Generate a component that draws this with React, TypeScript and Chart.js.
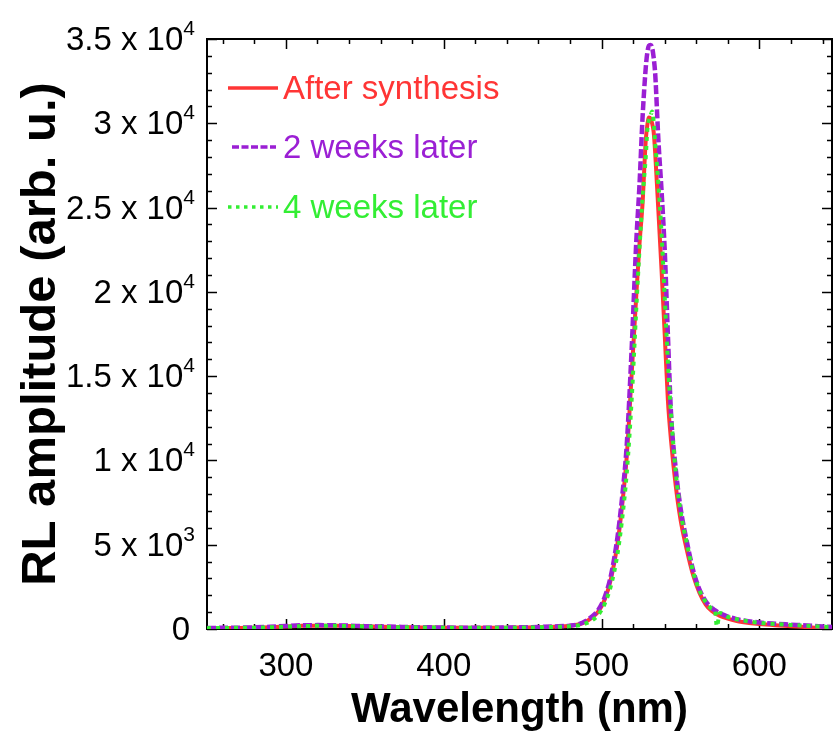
import React, { useEffect, useRef } from 'react';
import { Chart, registerables } from 'chart.js';

Chart.register(...registerables);

// ---- data ----
const wavelengths = [250, 260, 270, 280, 290, 300, 310, 320, 330, 340, 350, 360, 370, 380, 390, 400, 410, 420, 430, 440, 450, 460, 470, 480, 486, 490, 494, 498, 502, 506, 510, 513, 516, 519, 522, 524, 526, 528, 529, 530, 531, 532, 533, 534, 536, 538, 540, 542, 544, 547, 550, 554, 558, 562, 566, 570, 572, 573, 575, 580, 585, 590, 600, 610, 620, 630, 640, 646];

const afterSynthesis = [40, 50, 60, 80, 110, 150, 190, 200, 200, 180, 160, 140, 120, 100, 90, 80, 70, 70, 70, 80, 90, 110, 140, 190, 280, 430, 680, 1050, 1750, 3000, 5000, 7300, 10300, 15000, 19800, 22800, 25300, 29000, 29900, 30350, 30300, 30000, 29500, 28200, 24800, 21300, 17500, 13600, 11200, 8500, 6500, 4700, 3200, 2150, 1450, 1050, 930, 880, 780, 610, 480, 400, 290, 220, 170, 110, 50, 30];

const twoWeeksLater = [60, 70, 80, 100, 130, 180, 220, 230, 220, 200, 170, 150, 130, 110, 100, 90, 80, 80, 80, 90, 100, 120, 150, 200, 300, 480, 750, 1150, 1900, 3200, 5400, 7800, 11000, 16500, 23000, 26300, 30400, 33300, 34200, 34600, 34650, 34500, 33900, 32900, 29000, 26000, 22500, 17500, 12800, 9500, 7200, 5200, 3500, 2350, 1650, 1230, 1100, 1040, 930, 740, 600, 510, 380, 310, 260, 210, 150, 120];

const fourWeeksLater = [50, 60, 70, 80, 100, 140, 170, 190, 190, 170, 150, 130, 110, 100, 90, 80, 70, 70, 70, 70, 80, 100, 120, 160, 220, 330, 520, 850, 1500, 2600, 4400, 6500, 9300, 13500, 19000, 22500, 25600, 28000, 29600, 30200, 30450, 30700, 30100, 28800, 26400, 23500, 19700, 15900, 12800, 9300, 7000, 5100, 3400, 2300, 1600, 1200, 1050, 150, 950, 720, 590, 500, 370, 300, 240, 190, 140, 110];

const seriesLabels = ['After synthesis', '2 weeks later', '4 weeks later'];
const seriesColors = ['#ff3535', '#9b1fd4', '#33ee33'];

const xMin = 250;
const xMax = 646;
const xMajorTicks = [300, 400, 500, 600];
const xMinorStep = 20;

const yMin = 0;
const yMax = 35000;
const yTickValues = [0, 5000, 10000, 15000, 20000, 25000, 30000, 35000];
const yTickBase = ['0', '5 x 10', '1 x 10', '1.5 x 10', '2 x 10', '2.5 x 10', '3 x 10', '3.5 x 10'];
const yTickExp = ['', '3', '4', '4', '4', '4', '4', '4'];
const yMinorStep = 1000;

const FONT = '"Liberation Sans", Arial, Helvetica, sans-serif';

const toPoints = (ys: number[]) => wavelengths.map((x, i) => ({ x, y: ys[i] }));

const framePlugin = {
  id: 'frameTicks',
  beforeDatasetsDraw(chart: any) {
    const { ctx, chartArea: a, scales } = chart;
    const xs = scales.x;
    const ys = scales.y;
    ctx.save();
    ctx.strokeStyle = '#000';
    ctx.lineWidth = 2;
    ctx.strokeRect(a.left, a.top, a.right - a.left, a.bottom - a.top);
    ctx.lineWidth = 1.5;
    const major = 10;
    const minor = 5;
    for (let v = Math.ceil(xs.min / xMinorStep) * xMinorStep; v <= xs.max; v += xMinorStep) {
      const px = Math.round(xs.getPixelForValue(v)) + 0.5;
      const len = xMajorTicks.includes(v) ? major : minor;
      ctx.beginPath();
      ctx.moveTo(px, a.bottom);
      ctx.lineTo(px, a.bottom - len);
      ctx.moveTo(px, a.top);
      ctx.lineTo(px, a.top + len);
      ctx.stroke();
    }
    for (let v = Math.ceil(ys.min / yMinorStep) * yMinorStep; v <= ys.max; v += yMinorStep) {
      const py = Math.round(ys.getPixelForValue(v)) + 0.5;
      const len = yTickValues.includes(v) ? major : minor;
      ctx.beginPath();
      ctx.moveTo(a.left, py);
      ctx.lineTo(a.left + len, py);
      ctx.moveTo(a.right, py);
      ctx.lineTo(a.right - len, py);
      ctx.stroke();
    }
    ctx.restore();
  },
};

const yLabelPlugin = {
  id: 'yLabels',
  afterDraw(chart: any) {
    const { ctx, chartArea: a, scales } = chart;
    const ys = scales.y;
    ctx.save();
    ctx.fillStyle = '#000';
    ctx.textBaseline = 'alphabetic';
    ctx.textAlign = 'left';
    const baseFont = `33px ${FONT}`;
    const expFont = `21px ${FONT}`;
    const right = a.left - 12;
    yTickValues.forEach((v, i) => {
      const py = ys.getPixelForValue(v);
      ctx.font = expFont;
      const ew = yTickExp[i] ? ctx.measureText(yTickExp[i]).width : 0;
      ctx.font = baseFont;
      const bw = ctx.measureText(yTickBase[i]).width;
      const x0 = right - ew - bw - (yTickExp[i] ? 0 : 5);
      ctx.fillText(yTickBase[i], x0, py + 11);
      if (yTickExp[i]) {
        ctx.font = expFont;
        ctx.fillText(yTickExp[i], x0 + bw, py - 4);
      }
    });
    ctx.restore();
  },
};

const legendPlugin = {
  id: 'innerLegend',
  afterDraw(chart: any) {
    const { ctx } = chart;
    const rowsY = [90, 149, 209];
    const dashes = [[], [7, 2.5], [3.5, 4.5]];
    ctx.save();
    seriesLabels.forEach((label, i) => {
      const y = rowsY[i];
      ctx.strokeStyle = seriesColors[i];
      ctx.lineWidth = 3.5;
      ctx.setLineDash(dashes[i]);
      ctx.beginPath();
      ctx.moveTo(i === 1 ? 232 : 228, y - 2);
      ctx.lineTo(i === 1 ? 276 : 278, y - 2);
      ctx.stroke();
      ctx.setLineDash([]);
      ctx.fillStyle = seriesColors[i];
      ctx.font = `33px ${FONT}`;
      ctx.textBaseline = 'middle';
      ctx.textAlign = 'left';
      ctx.fillText(label, 283, y);
    });
    ctx.restore();
  },
};

export default function App() {
  const ref = useRef<HTMLCanvasElement | null>(null);

  useEffect(() => {
    if (!ref.current) return;
    const chart = new Chart(ref.current, {
      type: 'line',
      data: {
        datasets: [
          {
            label: seriesLabels[0],
            data: toPoints(afterSynthesis),
            borderColor: seriesColors[0],
            borderWidth: 4,
            pointRadius: 0,
            cubicInterpolationMode: 'monotone',
            order: 3,
          },
          {
            label: seriesLabels[1],
            data: toPoints(twoWeeksLater),
            borderColor: seriesColors[1],
            borderWidth: 4.5,
            borderDash: [9, 3],
            pointRadius: 0,
            cubicInterpolationMode: 'monotone',
            order: 2,
          },
          {
            label: seriesLabels[2],
            data: toPoints(fourWeeksLater),
            borderColor: seriesColors[2],
            borderWidth: 4,
            borderDash: [4, 5],
            pointRadius: 0,
            cubicInterpolationMode: 'monotone',
            order: 1,
          },
        ],
      },
      options: {
        animation: false,
        responsive: false,
        devicePixelRatio: 1,
        layout: { padding: { top: 39, right: 1, left: 0, bottom: 0 } },
        plugins: {
          legend: { display: false },
          tooltip: { enabled: false },
        },
        scales: {
          x: {
            type: 'linear',
            min: xMin,
            max: xMax,
            grid: { display: false, drawTicks: false },
            border: { display: false },
            afterBuildTicks: (s: any) => {
              s.ticks = xMajorTicks.map((v) => ({ value: v }));
            },
            afterFit: (s: any) => {
              s.height = 105;
            },
            ticks: {
              autoSkip: false,
              maxRotation: 0,
              padding: 18,
              color: '#000',
              font: { family: FONT, size: 33 },
              callback: (v: any) => String(v),
            },
            title: {
              display: true,
              text: 'Wavelength (nm)',
              color: '#000',
              font: { family: FONT, size: 42, weight: 'bold', lineHeight: 1 },
              padding: { top: 0, bottom: 3 },
            },
          },
          y: {
            type: 'linear',
            min: yMin,
            max: yMax,
            grid: { display: false, drawTicks: false },
            border: { display: false },
            afterBuildTicks: (s: any) => {
              s.ticks = yTickValues.map((v) => ({ value: v }));
            },
            afterFit: (s: any) => {
              s.width = 207;
            },
            ticks: { display: false },
            title: {
              display: true,
              text: 'RL amplitude (arb. u.)',
              color: '#000',
              font: { family: FONT, size: 49, weight: 'bold', lineHeight: 1 },
              padding: { top: 17, bottom: 0 },
            },
          },
        },
      },
      plugins: [framePlugin, yLabelPlugin, legendPlugin],
    } as any);
    return () => chart.destroy();
  }, []);

  return (
    <div style={{ position: 'absolute', left: 0, top: 0, width: 833, height: 734, background: '#fff' }}>
      <canvas ref={ref} width={833} height={734} style={{ display: 'block', width: 833, height: 734 }} />
    </div>
  );
}
